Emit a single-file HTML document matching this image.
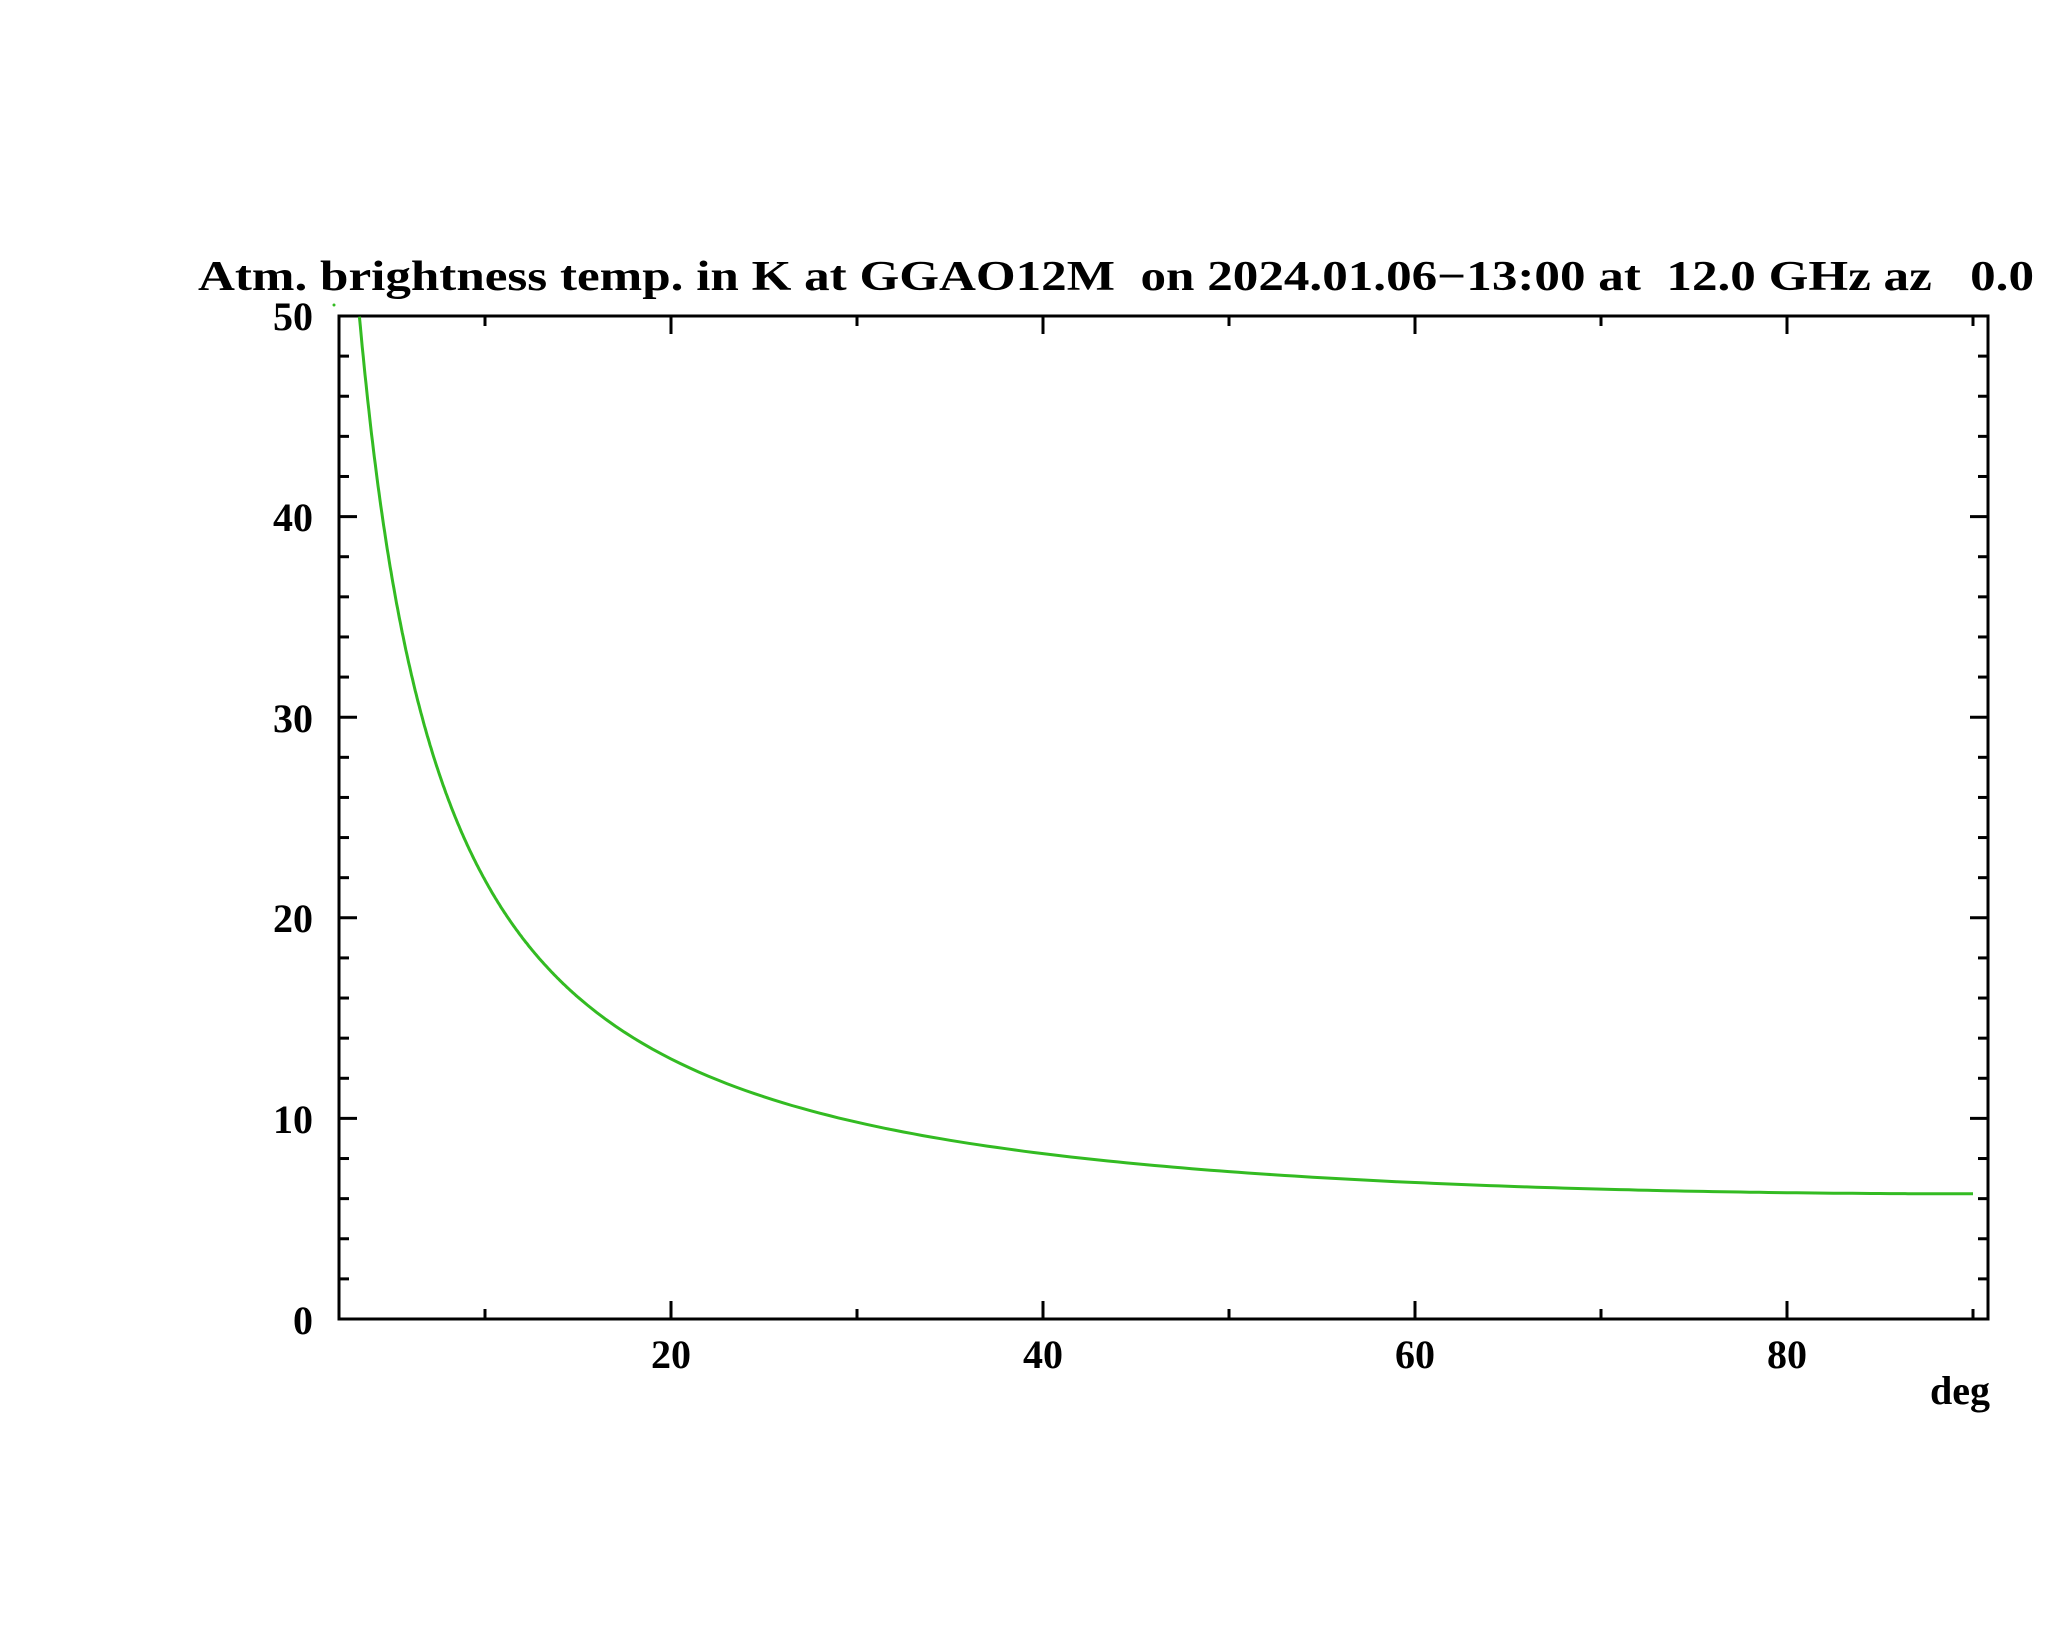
<!DOCTYPE html>
<html><head><meta charset="utf-8"><style>
html,body{margin:0;padding:0;background:#fff;}
svg{display:block;}
text{font-family:"Liberation Serif",serif;fill:#000;font-weight:bold;}
</style></head><body>
<svg id="s" width="2048" height="1635" viewBox="0 0 2048 1635" xmlns="http://www.w3.org/2000/svg">
<rect width="2048" height="1635" fill="#fff"/>
<text x="198" y="290" font-size="42" textLength="1836" lengthAdjust="spacingAndGlyphs" style="white-space:pre">Atm. brightness temp. in K at GGAO12M  on 2024.01.06−13:00 at  12.0 GHz az   0.0</text>
<g id="ticks" stroke="#000" stroke-width="3"></g>
<rect x="339" y="316" width="1649" height="1003" fill="none" stroke="#000" stroke-width="3"/>
<g font-size="40" text-anchor="end">
<text x="313" y="330">50</text>
<text x="313" y="531">40</text>
<text x="313" y="732">30</text>
<text x="313" y="932">20</text>
<text x="313" y="1133">10</text>
<text x="313" y="1334">0</text>
</g>
<g font-size="40" text-anchor="middle">
<text x="671" y="1368">20</text>
<text x="1043" y="1368">40</text>
<text x="1415" y="1368">60</text>
<text x="1787" y="1368">80</text>
</g>
<text x="1990" y="1404" font-size="40" text-anchor="end">deg</text>
<circle cx="334" cy="305" r="1.5" fill="#33bb22"/>
<path id="curve" fill="none" stroke="#33bb22" stroke-width="3" d=""/>
</svg>
<script>
(function(){
var X=function(d){return 299+d*18.6;};
var Y=function(t){return 1319-t*20.06;};
var g=document.getElementById('ticks'),h='';
for(var t=2;t<50;t+=2){var L=(t%10==0)?18:10;var y=Y(t);
h+='<line x1="339" y1="'+y+'" x2="'+(339+L)+'" y2="'+y+'"/>';
h+='<line x1="1988" y1="'+y+'" x2="'+(1988-L)+'" y2="'+y+'"/>';}
for(var d=10;d<=90;d+=10){var L=(d%20==0)?18:10;var x=X(d);
h+='<line x1="'+x+'" y1="1319" x2="'+x+'" y2="'+(1319-L)+'"/>';
h+='<line x1="'+x+'" y1="316" x2="'+x+'" y2="'+(316+L)+'"/>';}
g.innerHTML=h;
var f=function(e){return 2.5+3.83/(Math.sin(e*Math.PI/180)+0.024);};
var p='';
for(var e=3.25;e<90;e+=(e<15?0.05:0.5)){
var T=Math.min(50,f(e));
p+=(p?'L':'M')+X(e).toFixed(1)+' '+Y(T).toFixed(1);}
p+='L'+X(90).toFixed(1)+' '+Y(f(90)).toFixed(1);
document.getElementById('curve').setAttribute('d',p);
})();
</script>
</body></html>
